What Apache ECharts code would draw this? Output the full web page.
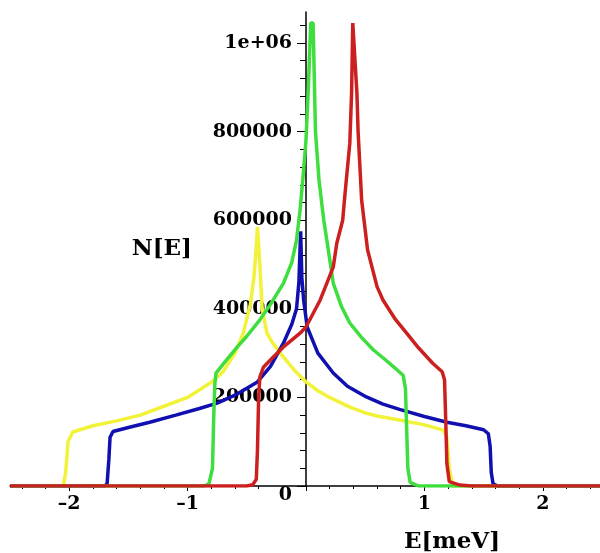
<!DOCTYPE html>
<html>
<head>
<meta charset="utf-8">
<title>N[E]</title>
<script src="https://cdn.jsdelivr.net/npm/echarts@6/dist/echarts.min.js"></script>
<style>
html, body {
	margin: 0;
	padding: 0;
	background: #fff;
}
#chart {
	width: 600px;
	height: 553px;
}
</style>
</head>
<body>
<div id="chart"></div>
<script type="text/javascript">
    // values: energy E (meV) and density N[E]
    var yellowE = [-2.5, -2.05, -2.03, -2.01, -1.97, -1.8, -1.6, -1.4, -1.2, -1.0, -0.8, -0.7, -0.6, -0.53, -0.47, -0.44, -0.42, -0.41,
        -0.39, -0.37, -0.33, -0.28, -0.19, -0.1, 0, 0.1, 0.2, 0.37, 0.5, 0.6, 0.79, 1.0, 1.16, 1.19, 1.21, 1.24, 2.5];
    var yellowN = [0, 0, 30000, 100000, 122000, 136000, 147000, 160000, 180000, 200000, 234000, 258000, 300000, 345000, 410000, 470000, 540000, 585000,
        500000, 400000, 345000, 322000, 291000, 262000, 235000, 215000, 200000, 178000, 165000, 158000, 149000, 138000, 126000, 110000, 40000, 0, 0];

    var blueE = [-2.5, -1.7, -1.68, -1.665, -1.655, -1.63, -1.5, -1.32, -1.1, -0.9, -0.75, -0.6, -0.41, -0.3, -0.19, -0.12, -0.08, -0.06, -0.05, -0.045,
        -0.035, -0.02, 0.01, 0.1, 0.23, 0.35, 0.51, 0.65, 0.79, 1.0, 1.19, 1.35, 1.5, 1.54, 1.555, 1.565, 1.58, 1.62, 2.5];
    var blueN = [0, 0, 5000, 60000, 110000, 123000, 132000, 144000, 160000, 175000, 187000, 205000, 235000, 270000, 323000, 365000, 400000, 460000, 540000, 575000,
        470000, 420000, 359000, 300000, 255000, 225000, 201000, 185000, 173000, 157000, 144000, 136000, 127000, 118000, 90000, 30000, 5000, 0, 0];

    var greenE = [-2.5, -0.86, -0.82, -0.79, -0.78, -0.77, -0.76, -0.7, -0.58, -0.5, -0.39, -0.3, -0.19, -0.12, -0.08, -0.05, -0.02, 0.0, 0.02, 0.04,
        0.06, 0.08, 0.11, 0.15, 0.18, 0.23, 0.3, 0.37, 0.47, 0.57, 0.67, 0.77, 0.82, 0.84, 0.85, 0.86, 0.88, 0.95, 2.5];
    var greenN = [0, 0, 5000, 40000, 150000, 230000, 255000, 275000, 314000, 338000, 375000, 410000, 458000, 505000, 555000, 623000, 713000, 781000, 900000, 1045000,
        1045000, 800000, 690000, 600000, 548000, 458000, 405000, 368000, 335000, 307000, 285000, 262000, 250000, 220000, 130000, 40000, 8000, 0, 0];

    var redE = [-2.5, -0.5, -0.45, -0.42, -0.41, -0.4, -0.39, -0.36, -0.28, -0.19, -0.05, 0.0, 0.12, 0.23, 0.26, 0.31, 0.33, 0.37, 0.385, 0.395,
        0.41, 0.43, 0.44, 0.47, 0.52, 0.6, 0.65, 0.75, 0.85, 0.95, 1.07, 1.15, 1.17, 1.18, 1.19, 1.21, 1.3, 1.4, 2.5];
    var redN = [0, 0, 3000, 15000, 80000, 200000, 246000, 268000, 290000, 314000, 345000, 359000, 420000, 494000, 548000, 600000, 661000, 774000, 887000, 1045000,
        1045000, 887000, 800000, 645000, 533000, 450000, 420000, 378000, 345000, 312000, 277000, 258000, 240000, 150000, 50000, 10000, 2000, 0, 0];

    var xTicks = [-2, -1, 0, 1, 2];
    var xLabels = [-2, -1, 1, 2];
    var yTicks = [0, 200000, 400000, 600000, 800000, 1000000];

    function pairs(xs, ys) {
        var out = [];
        for (var i = 0; i < xs.length; i++) {
            out.push([xs[i], ys[i]]);
        }
        return out;
    }

    var labelFont = {
        fontFamily: 'DejaVu Serif',
        fontWeight: 'bold',
        color: '#000'
    };

    function lineSeries(xs, ys, color) {
        return {
            type: 'line',
            z: 10,
            data: pairs(xs, ys),
            showSymbol: false,
            symbol: 'none',
            lineStyle: {color: color, width: 3.5},
            itemStyle: {color: color}
        };
    }

    var gridLeft = 10, gridWidth = 592;
    var xMin = -2.5, xMax = 2.5;
    // y axis sits where E = 0, shifted in from the grid's left edge
    var yShift = gridWidth * (0 - xMin) / (xMax - xMin);

    var myChart = echarts.init(document.getElementById('chart'));

    var option = {
        animation: false,
        backgroundColor: '#fff',
        grid: {left: gridLeft, top: 12, width: gridWidth, height: 474, containLabel: false, outerBoundsMode: 'none'},
        xAxis: {
            type: 'value',
            min: xMin,
            max: xMax,
            splitNumber: 5,
            axisLine: {onZero: true, lineStyle: {color: '#000', width: 1.5}},
            axisTick: {customValues: xTicks, length: 5, lineStyle: {color: '#000'}},
            minorTick: {show: true, splitNumber: 5, length: 3, lineStyle: {color: '#000'}},
            splitLine: {show: false},
            minorSplitLine: {show: false},
            axisLabel: {
                customValues: xLabels,
                margin: 9,
                fontSize: 19,
                fontFamily: labelFont.fontFamily,
                fontWeight: labelFont.fontWeight,
                color: labelFont.color,
                formatter: function (v) {
                    return v < 0 ? '\u2013' + Math.abs(v) : String(v);
                }
            },
            name: 'E[meV]',
            nameLocation: 'middle',
            nameGap: 45,
            nameTextStyle: {
                fontSize: 23,
                fontFamily: labelFont.fontFamily,
                fontWeight: labelFont.fontWeight,
                color: labelFont.color,
                padding: [0, 0, 0, 292]
            }
        },
        yAxis: {
            type: 'value',
            position: 'left',
            offset: -yShift,
            min: 0,
            max: 1070000,
            splitNumber: 5,
            axisLine: {onZero: false, lineStyle: {color: '#000', width: 1.5}},
            axisTick: {customValues: yTicks, length: 9, lineStyle: {color: '#000'}},
            minorTick: {show: true, splitNumber: 5, length: 6, lineStyle: {color: '#000'}},
            splitLine: {show: false},
            minorSplitLine: {show: false},
            axisLabel: {
                customValues: yTicks,
                margin: 14,
                fontSize: 19,
                fontFamily: labelFont.fontFamily,
                fontWeight: labelFont.fontWeight,
                color: labelFont.color,
                formatter: function (v) {
                    if (v === 0) return '{z|0}';
                    if (v === 1000000) return '1e+06';
                    return String(v);
                },
                rich: {
                    z: {
                        fontSize: 19,
                        fontFamily: labelFont.fontFamily,
                        fontWeight: labelFont.fontWeight,
                        color: labelFont.color,
                        padding: [18, 0, 0, 0]
                    }
                }
            },
            name: 'N[E]',
            nameLocation: 'middle',
            nameRotate: 0,
            nameGap: 114,
            nameTextStyle: {
                fontSize: 23,
                fontFamily: labelFont.fontFamily,
                fontWeight: labelFont.fontWeight,
                color: labelFont.color
            }
        },
        series: [
            lineSeries(yellowE, yellowN, '#f2f23a'),
            lineSeries(blueE, blueN, '#1010b0'),
            lineSeries(greenE, greenN, '#3ede3e'),
            lineSeries(redE, redN, '#cc1f1f')
        ]
    };

    myChart.setOption(option);
</script>
</body>
</html>
